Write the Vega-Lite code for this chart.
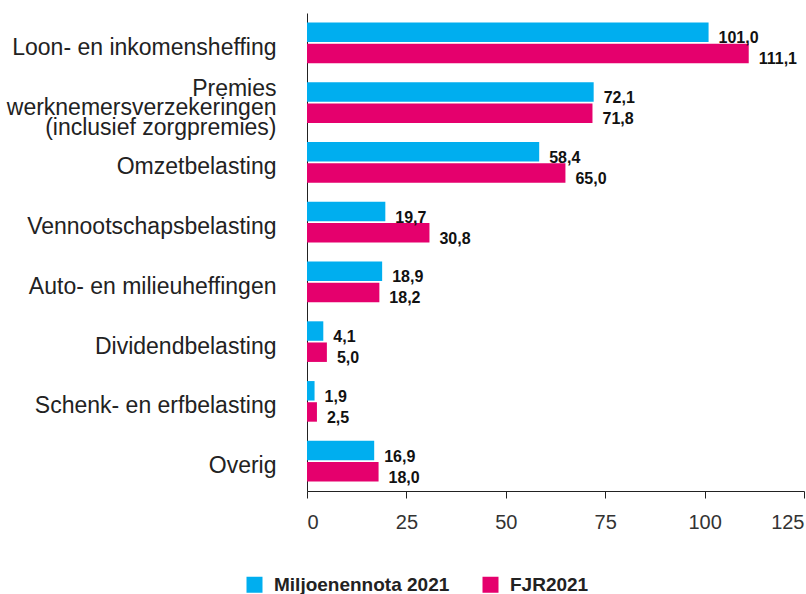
{
  "$schema": "https://vega.github.io/schema/vega-lite/v6.json",
  "width": 497,
  "height": 478,
  "autosize": "none",
  "padding": {"left": 307, "top": 13, "right": 2, "bottom": 103},
  "config": {
    "view": {"stroke": null},
    "font": "Liberation Sans",
    "locale": {"number": {"decimal": ",", "thousands": ".", "grouping": [3], "currency": ["€", ""]}}
  },
  "data": {
    "values": [
      {"categorie": "Loon- en inkomensheffing", "reeks": "Miljoenennota 2021", "waarde": 101.0},
      {"categorie": "Loon- en inkomensheffing", "reeks": "FJR2021", "waarde": 111.1},
      {"categorie": "Premies werknemersverzekeringen (inclusief zorgpremies)", "reeks": "Miljoenennota 2021", "waarde": 72.1},
      {"categorie": "Premies werknemersverzekeringen (inclusief zorgpremies)", "reeks": "FJR2021", "waarde": 71.8},
      {"categorie": "Omzetbelasting", "reeks": "Miljoenennota 2021", "waarde": 58.4},
      {"categorie": "Omzetbelasting", "reeks": "FJR2021", "waarde": 65.0},
      {"categorie": "Vennootschapsbelasting", "reeks": "Miljoenennota 2021", "waarde": 19.7},
      {"categorie": "Vennootschapsbelasting", "reeks": "FJR2021", "waarde": 30.8},
      {"categorie": "Auto- en milieuheffingen", "reeks": "Miljoenennota 2021", "waarde": 18.9},
      {"categorie": "Auto- en milieuheffingen", "reeks": "FJR2021", "waarde": 18.2},
      {"categorie": "Dividendbelasting", "reeks": "Miljoenennota 2021", "waarde": 4.1},
      {"categorie": "Dividendbelasting", "reeks": "FJR2021", "waarde": 5.0},
      {"categorie": "Schenk- en erfbelasting", "reeks": "Miljoenennota 2021", "waarde": 1.9},
      {"categorie": "Schenk- en erfbelasting", "reeks": "FJR2021", "waarde": 2.5},
      {"categorie": "Overig", "reeks": "Miljoenennota 2021", "waarde": 16.9},
      {"categorie": "Overig", "reeks": "FJR2021", "waarde": 18.0}
    ]
  },
  "encoding": {
    "y": {
      "field": "categorie",
      "type": "nominal",
      "sort": null,
      "scale": {"paddingInner": 0.32, "paddingOuter": 0.16},
      "axis": {
        "title": null,
        "ticks": false,
        "domain": true,
        "domainColor": "#222",
        "domainWidth": 1,
        "labelFontSize": 23,
        "labelColor": "#222",
        "labelPadding": 31,
        "labelOffset": {"condition": {"test": "datum.value == 'Premies werknemersverzekeringen (inclusief zorgpremies)'", "value": -14}, "value": 5},
        "labelLimit": 400,
        "labelLineHeight": 19.5,
        "labelExpr": "datum.value == 'Premies werknemersverzekeringen (inclusief zorgpremies)' ? ['Premies', 'werknemersverzekeringen', '(inclusief zorgpremies)'] : datum.label"
      }
    },
    "yOffset": {
      "field": "reeks",
      "type": "nominal",
      "sort": ["Miljoenennota 2021", "FJR2021"],
      "scale": {"paddingInner": 0.08}
    },
    "x": {
      "field": "waarde",
      "type": "quantitative",
      "scale": {"domain": [0, 125], "nice": false},
      "axis": {
        "title": null,
        "values": [0, 25, 50, 75, 100, 125],
        "grid": false,
        "domainColor": "#222",
        "tickColor": "#222",
        "tickSize": 7,
        "labelFontSize": 20,
        "labelColor": "#333",
        "labelPadding": 14,
        "format": "d"
      }
    }
  },
  "layer": [
    {
      "mark": {"type": "bar"},
      "encoding": {
        "color": {
          "field": "reeks",
          "type": "nominal",
          "sort": ["Miljoenennota 2021", "FJR2021"],
          "scale": {"domain": ["Miljoenennota 2021", "FJR2021"], "range": ["#00aeef", "#e5006d"]},
          "legend": {
            "orient": "none",
            "legendX": -62,
            "legendY": 562,
            "direction": "horizontal",
            "title": null,
            "symbolType": "square",
            "symbolSize": 256,
            "symbolStrokeWidth": 0,
            "symbolOpacity": 1,
            "labelFontSize": 19,
            "labelFontWeight": "bold",
            "labelColor": "#222",
            "labelOffset": 10,
            "labelLimit": 400,
            "columnPadding": 31,
            "padding": 0
          }
        }
      }
    },
    {
      "mark": {"type": "text", "align": "left", "baseline": "middle", "dx": 10, "dy": 6, "fontSize": 16, "fontWeight": "bold", "color": "#111"},
      "encoding": {
        "text": {"field": "waarde", "type": "quantitative", "format": ".1f"}
      }
    }
  ]
}
